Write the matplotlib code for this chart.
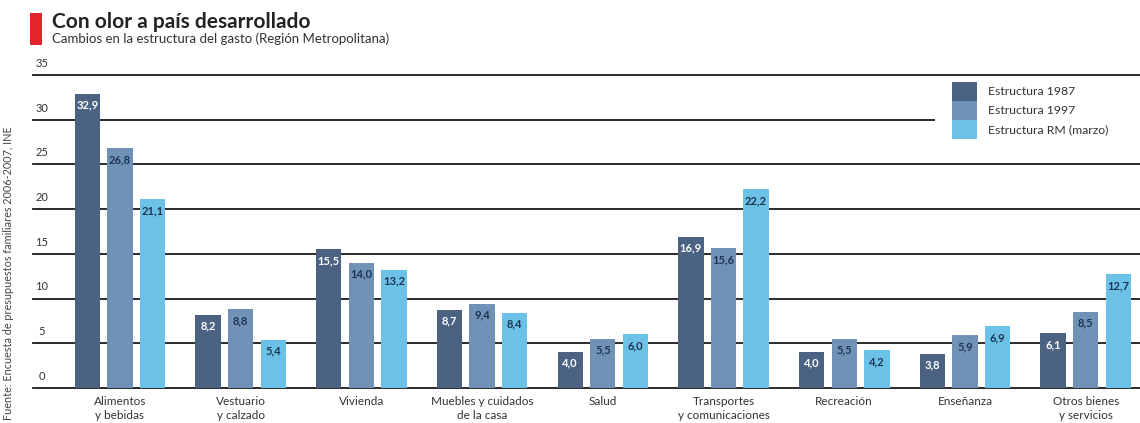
import matplotlib.pyplot as plt
import numpy as np
from matplotlib.patches import Rectangle, Patch
from matplotlib.transforms import blended_transform_factory

plt.rcParams['font.family'] = ['Lato', 'DejaVu Sans']

categories = ["Alimentos\ny bebidas", "Vestuario\ny calzado", "Vivienda",
              "Muebles y cuidados\nde la casa", "Salud",
              "Transportes\ny comunicaciones", "Recreación", "Enseñanza",
              "Otros bienes\ny servicios"]
est_1987 = [32.9, 8.2, 15.5, 8.7, 4.0, 16.9, 4.0, 3.8, 6.1]
est_1997 = [26.8, 8.8, 14.0, 9.4, 5.5, 15.6, 5.5, 5.9, 8.5]
est_rm = [21.1, 5.4, 13.2, 8.4, 6.0, 22.2, 4.2, 6.9, 12.7]
series_names = ["Estructura 1987", "Estructura 1997", "Estructura RM (marzo)"]
yticks = [0, 5, 10, 15, 20, 25, 30, 35]

colors = ["#4b6283", "#7192b7", "#6cc2e6"]
text_colors = ["white", "#1d3452", "#1d3452"]

fig = plt.figure(figsize=(11.4, 4.23), dpi=100)
ax = fig.add_axes([33 / 1140, 35 / 423, 1 - 33 / 1140, (388 - 75) / 423])

x = np.arange(len(categories))
offsets = [-0.27, 0, 0.27]
width = 0.21
for vals, off, c, tc, name in zip([est_1987, est_1997, est_rm], offsets,
                                  colors, text_colors, series_names):
    bars = ax.bar(x + off, vals, width, color=c, zorder=3, label=name)
    for b, v in zip(bars, vals):
        ax.annotate(f"{v:.1f}".replace(".", ","),
                    (b.get_x() + b.get_width() / 2, v),
                    xytext=(0, -8), textcoords="offset points",
                    ha="center", va="center", fontsize=8, fontweight="bold",
                    color=tc, zorder=4)

ax.set_xlim(-0.72, 8.45)
ax.set_ylim(0, 35)
for t in yticks:
    ax.axhline(t, color="#1a1a1a", lw=1.3, zorder=1, clip_on=False)

trans = blended_transform_factory(ax.transAxes, ax.transData)
for t in yticks:
    ax.text(0.008, t + 1.3, str(t), transform=trans, ha="center",
            va="center", fontsize=8, color="#333333")

# white box behind the legend hides the 30 gridline
ax.add_patch(Rectangle(((935 - 33) / 1107, 26), 1, 8, transform=trans,
                       facecolor="white", edgecolor="none", zorder=2))

handles = [Patch(facecolor=c, edgecolor="none") for c in colors]
ax.legend(handles, series_names, loc="upper left",
          bbox_to_anchor=(952 / 1140, 1 - 82 / 423),
          bbox_transform=fig.transFigure, frameon=False, fontsize=8.8,
          handlelength=2.05, handleheight=2.0, labelspacing=0,
          handletextpad=0.9, borderpad=0, borderaxespad=0, labelcolor="#333333")

ax.set_xticks(x)
ax.set_xticklabels(categories, fontsize=8.5, color="#333333", linespacing=1.25)
ax.tick_params(axis="x", length=0, pad=6)
ax.set_yticks([])
for s in ax.spines.values():
    s.set_visible(False)

fig.add_artist(Rectangle((30 / 1140, 1 - 45 / 423), 12 / 1140, 32 / 423,
                         transform=fig.transFigure, facecolor="#e3242b",
                         edgecolor="none"))
fig.text(52 / 1140, 1 - 22 / 423, "Con olor a país desarrollado",
         fontsize=15, fontweight="bold", color="#222222", va="center")
fig.text(52 / 1140, 1 - 39 / 423,
         "Cambios en la estructura del gasto (Región Metropolitana)",
         fontsize=9.5, color="#333333", va="center")
fig.text(0.003, 0.008,
         "Fuente: Encuesta de presupuestos familiares 2006-2007, INE",
         rotation=90, fontsize=7.8, color="#444444", ha="left", va="bottom")

fig.savefig("out.png", dpi=100)
